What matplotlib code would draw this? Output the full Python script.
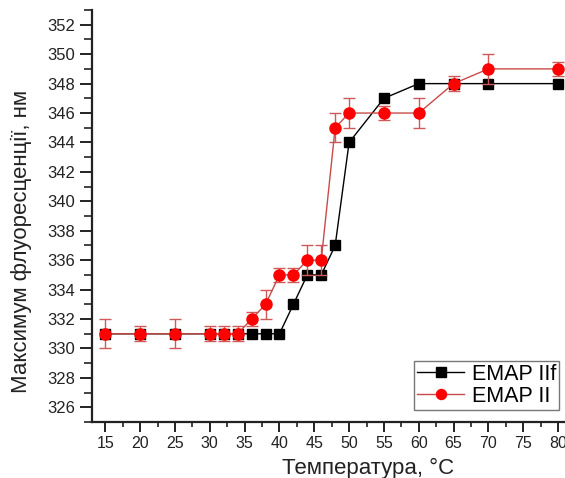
import matplotlib
matplotlib.use("Agg")
import matplotlib.pyplot as plt
from matplotlib.ticker import MultipleLocator

plt.rcParams['font.family'] = ['Liberation Sans', 'DejaVu Sans']

# EMAP IIf (black squares)
temp_f = [15, 20, 25, 30, 32, 34, 36, 38, 40, 42, 44, 46, 48, 50, 55, 60, 65, 70, 80]
max_f = [331, 331, 331, 331, 331, 331, 331, 331, 331, 333, 335, 335, 337, 344, 347, 348, 348, 348, 348]

# EMAP II (red circles) with error bars
temp_ii = [15, 20, 25, 30, 32, 34, 36, 38, 40, 42, 44, 46, 48, 50, 55, 60, 65, 70, 80]
max_ii = [331, 331, 331, 331, 331, 331, 332, 333, 335, 335, 336, 336, 345, 346, 346, 346, 348, 349, 349]
err_ii = [1, 0.5, 1, 0.5, 0.5, 0.5, 0.5, 1, 0.5, 0.5, 1, 1, 1, 1, 0.5, 1, 0.5, 1, 0.5]

xticks = [15, 20, 25, 30, 35, 40, 45, 50, 55, 60, 65, 70, 75, 80]
yticks = list(range(326, 353, 2))

fig = plt.figure(figsize=(5.65, 4.78), dpi=100)
ax = fig.add_axes([0.163, 0.117, 0.837, 0.862])

line_f, = ax.plot(temp_f, max_f, color='black', lw=1, marker='s', ms=7.5,
                  mfc='black', mec='black', zorder=3)
eb = ax.errorbar(temp_ii, max_ii, yerr=err_ii, color='#c84a4a', lw=1,
                 ecolor='#d05858', elinewidth=1, capsize=4, capthick=1,
                 marker='o', ms=8, mfc='red', mec='red', zorder=4)

ax.set_xlim(13.1, 81)
ax.set_ylim(325, 353)
ax.set_xticks(xticks)
ax.set_yticks(yticks)
ax.xaxis.set_minor_locator(MultipleLocator(2.5))
ax.yaxis.set_minor_locator(MultipleLocator(1))

for side in ['top', 'right']:
    ax.spines[side].set_visible(False)
for side in ['left', 'bottom']:
    ax.spines[side].set_linewidth(1.6)
    ax.spines[side].set_color('#222222')

ax.tick_params(axis='x', which='major', direction='out', length=7, width=1.4,
               labelsize=11.5, colors='#222222', pad=3)
ax.tick_params(axis='x', which='minor', direction='out', length=3.8, width=1.2, colors='#222222')
ax.tick_params(axis='y', which='major', direction='out', length=9, width=1.4,
               labelsize=12, colors='#222222', pad=3)
ax.tick_params(axis='y', which='minor', direction='out', length=5.5, width=1.2, colors='#222222')

ax.set_xlabel('Температура, °C', fontsize=16, color='#222222')
ax.set_ylabel('Максимум флуоресценції, нм', fontsize=16, color='#222222')
ax.xaxis.set_label_coords(0.584, -0.087)
ax.yaxis.set_label_coords(-0.127, 0.439)

leg = ax.legend([line_f, eb.lines[0]], ['EMAP IIf', 'EMAP II'],
                loc='lower right', bbox_to_anchor=(0.988, 0.029), fontsize=15.5,
                frameon=True, fancybox=False, edgecolor='#555555',
                handlelength=2.2, borderpad=0.15, labelspacing=0.05,
                handletextpad=0.35, borderaxespad=0, markerscale=0.9)
leg.get_frame().set_linewidth(1.0)

fig.savefig('out.png', dpi=100)
